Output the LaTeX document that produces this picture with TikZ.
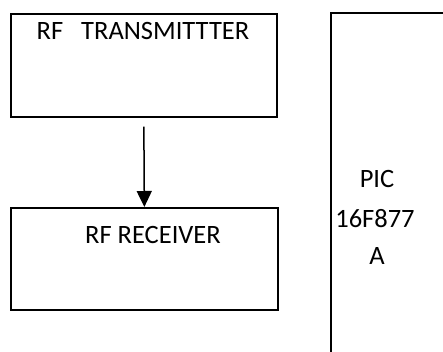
\documentclass[tikz,border=0pt]{standalone}
\usepackage{fontspec}
\setmainfont{Carlito}
\usetikzlibrary{arrows.meta}
\begin{document}
\begin{tikzpicture}[x=1pt,y=-1pt,
  blockbox/.style={draw=black,line width=1.7pt,rectangle,inner sep=0pt,anchor=north west},
  lbl/.style={anchor=base,inner sep=0pt,font=\fontsize{26.5}{30}\selectfont},
  conn/.style={line width=1.5pt,-{Triangle[length=16pt,width=15pt]}}]
\useasboundingbox (0,0) rectangle (443,352);
\node[blockbox,minimum width=266pt,minimum height=103pt] (tx) at (10,13) {};
\node[blockbox,minimum width=267pt,minimum height=102pt] (rx) at (10,207) {};
\node[lbl] (txl) at (143,40) {RF~~~TRANSMITTTER};
\node[lbl] (rxl) at (153,243) {RF RECEIVER};
\coordinate (picTR) at (444,13);
\coordinate (picTL) at (331,13);
\coordinate (picBL) at (331,353);
\draw[line width=1.7pt] (picTR) -- (picTL) -- (picBL);
\node[lbl] (pic1) at (377,188) {PIC};
\node[lbl] (pic2) at (375,227) {16F877};
\node[lbl] (pic3) at (377,264) {A};
\draw[conn] ([yshift=-9pt]tx.south) -- (rx.north);
\end{tikzpicture}
\end{document}
